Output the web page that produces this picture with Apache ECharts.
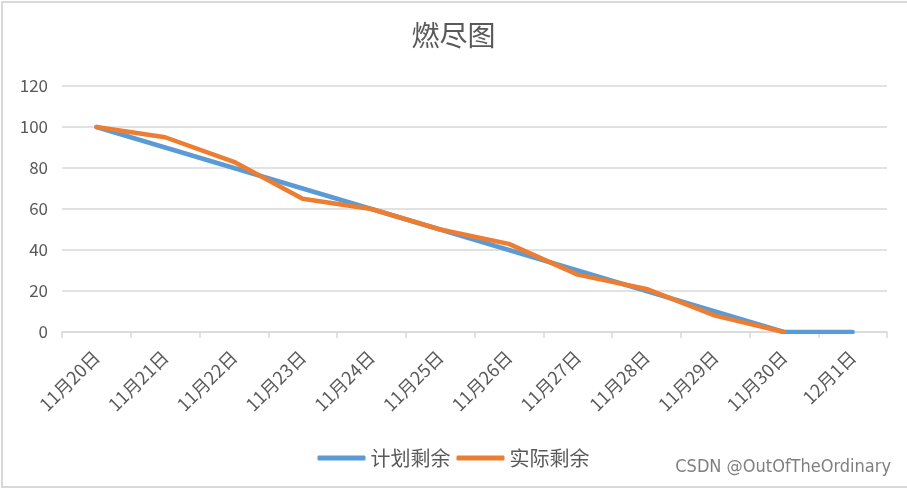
<!DOCTYPE html>
<html>
<head>
<meta charset="utf-8">
<script src="https://cdn.jsdelivr.net/npm/echarts@6/dist/echarts.min.js"></script>
<style>html,body{margin:0;padding:0;background:#fff;}#main{width:907px;height:490px;}</style>
</head>
<body>
<div id="main"></div>
<script>
const categories = ['11月20日','11月21日','11月22日','11月23日','11月24日','11月25日','11月26日','11月27日','11月28日','11月29日','11月30日','12月1日'];
const plannedRemaining = [100, 90, 80, 70, 60, 50, 40, 30, 20, 10, 0, 0];
const actualRemaining = [100, 95, 83, 65, 60, 50, 43, 28, 21, 8, 0];
const seriesNames = ['计划剩余', '实际剩余'];
const yTicks = {min: 0, max: 120, interval: 20};

const chart = echarts.init(document.getElementById('main'), null, {renderer: 'canvas'});
const cjk = '"Noto Sans CJK SC", "Noto Sans", sans-serif';
chart.setOption({
  backgroundColor: '#fff',
  animation: false,
  title: {
    text: '燃尽图', left: 'center', top: 16,
    textStyle: {fontFamily: cjk, fontSize: 28, fontWeight: 'normal', color: '#595959'}
  },
  grid: {left: 62, right: 20, top: 86, bottom: 158},
  legend: {
    data: seriesNames, left: 'center', top: 443, itemGap: 6,
    icon: 'roundRect', itemWidth: 48, itemHeight: 5,
    textStyle: {fontFamily: cjk, fontSize: 20, color: '#595959'}
  },
  xAxis: {
    type: 'category', data: categories, boundaryGap: true,
    axisLine: {lineStyle: {color: '#d9d9d9', width: 1.5}},
    axisTick: {show: true, length: 6, lineStyle: {color: '#d9d9d9', width: 1.5}},
    axisLabel: {rotate: 45, margin: 22, fontFamily: cjk, fontSize: 18, color: '#595959', interval: 0}
  },
  yAxis: {
    type: 'value', min: yTicks.min, max: yTicks.max, interval: yTicks.interval,
    axisLine: {show: false}, axisTick: {show: false},
    splitLine: {lineStyle: {color: '#d9d9d9', width: 1.5}},
    axisLabel: {margin: 14, fontFamily: cjk, fontSize: 17, color: '#595959'}
  },
  series: [
    {name: seriesNames[0], type: 'line', data: plannedRemaining, symbol: 'none',
     lineStyle: {color: '#5B9BD5', width: 4.5, cap: 'round', join: 'round'}, itemStyle: {color: '#5B9BD5'}},
    {name: seriesNames[1], type: 'line', data: actualRemaining, symbol: 'none',
     lineStyle: {color: '#ED7D31', width: 4.5, cap: 'round', join: 'round'}, itemStyle: {color: '#ED7D31'}}
  ],
  graphic: [
    {type: 'rect', silent: true, z: -1, shape: {x: 2, y: 2, width: 910, height: 485},
     style: {fill: 'none', stroke: '#d9d9d9', lineWidth: 2}},
    {type: 'text', right: 16, top: 458, silent: true,
     style: {text: 'CSDN @OutOfTheOrdinary', fill: '#7f7f7f', font: '18px "Liberation Sans Narrow", "DejaVu Sans Condensed", sans-serif'}}
  ]
});
</script>
</body>
</html>
